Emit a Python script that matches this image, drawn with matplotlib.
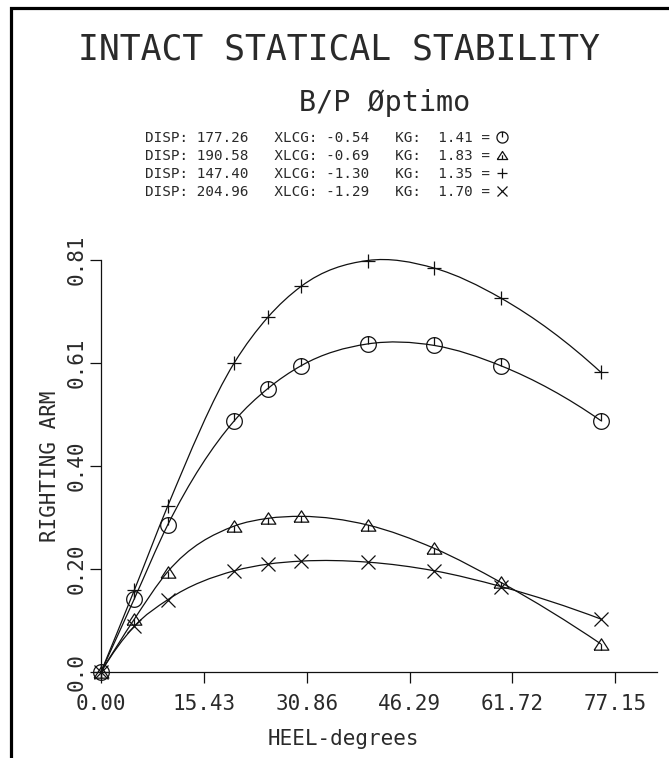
import matplotlib
matplotlib.use("Agg")
import matplotlib.pyplot as plt
from matplotlib.path import Path
from matplotlib.patches import PathPatch
from matplotlib.lines import Line2D
import numpy as np

# ---------------- data ----------------
heel = [0, 5, 10, 20, 25, 30, 40, 50, 60, 75]
arm_circle = [0.0, 0.144, 0.289, 0.494, 0.557, 0.602, 0.645, 0.642, 0.602, 0.494]
arm_tri = [0.0, 0.104, 0.197, 0.287, 0.302, 0.306, 0.289, 0.243, 0.176, 0.055]
arm_plus = [0.0, 0.161, 0.326, 0.608, 0.697, 0.758, 0.809, 0.794, 0.735, 0.589]
arm_cross = [0.0, 0.090, 0.142, 0.199, 0.212, 0.218, 0.216, 0.199, 0.168, 0.104]

disp = ["177.26", "190.58", "147.40", "204.96"]
xlcg = ["-0.54", "-0.69", "-1.30", "-1.29"]
kg = ["1.41", "1.83", "1.35", "1.70"]

xtick_vals = [0.0, 15.43, 30.86, 46.29, 61.72, 77.15]
xtick_labels = ["0.00", "15.43", "30.86", "46.29", "61.72", "77.15"]
ytick_vals = [0.0, 0.2025, 0.405, 0.6075, 0.81]
ytick_labels = ["0.0", "0.20", "0.40", "0.61", "0.81"]

title = "INTACT STATICAL STABILITY"
subtitle = "B/P Øptimo"
xlabel = "HEEL-degrees"
ylabel = "RIGHTING ARM"

# ---------------- layout ----------------
W, H = 669, 758
FONT = "DejaVu Sans Mono"
INK = "#111111"
TXT = "#2a2a2a"
fig = plt.figure(figsize=(W / 100, H / 100), dpi=100)


def fx(x):
    return x / W


def fy(y):
    return 1 - y / H


ax = fig.add_axes([fx(101), fy(672), (657 - 101) / W, (672 - 260) / H])
ax.set_xlim(0, 83.4)
ax.set_ylim(0, 0.81)
ax.patch.set_alpha(0)
for s in ("top", "right"):
    ax.spines[s].set_visible(False)
for s in ("left", "bottom"):
    ax.spines[s].set_linewidth(0.9)
    ax.spines[s].set_color(INK)

ax.set_xticks(xtick_vals)
ax.set_xticklabels(xtick_labels, family=FONT, fontsize=15, color=TXT)
ax.set_yticks(ytick_vals)
ax.set_yticklabels(ytick_labels, family=FONT, fontsize=15, color=TXT,
                   rotation=90, va="center", ha="right")
ax.tick_params(axis="x", direction="out", length=8, width=0.9, pad=7.5, colors=INK,
               labelcolor=TXT)
ax.tick_params(axis="y", direction="out", length=8, width=0.9, pad=2.5, colors=INK,
               labelcolor=TXT)


# ---------------- smooth curves ----------------
def smooth_path(xs, ys):
    xs = np.asarray(xs, float)
    ys = np.asarray(ys, float)
    h = np.diff(xs)
    d = np.diff(ys) / h
    m = np.empty_like(xs)
    m[1:-1] = (h[:-1] * d[1:] + h[1:] * d[:-1]) / (h[:-1] + h[1:])
    m[0] = ((2 * h[0] + h[1]) * d[0] - h[0] * d[1]) / (h[0] + h[1])
    m[-1] = ((2 * h[-1] + h[-2]) * d[-1] - h[-1] * d[-2]) / (h[-1] + h[-2])
    verts = [(xs[0], ys[0])]
    codes = [Path.MOVETO]
    for i in range(len(h)):
        verts += [(xs[i] + h[i] / 3, ys[i] + m[i] * h[i] / 3),
                  (xs[i + 1] - h[i] / 3, ys[i + 1] - m[i + 1] * h[i] / 3),
                  (xs[i + 1], ys[i + 1])]
        codes += [Path.CURVE4] * 3
    return Path(verts, codes)


# custom markers
t = np.linspace(0, 2 * np.pi, 33)
circ_v = [(np.sin(a), np.cos(a)) for a in t]
circ_c = [Path.MOVETO] + [Path.LINETO] * (len(circ_v) - 1)
circle_marker = Path(circ_v + [(0, 0), (0, 1)], circ_c + [Path.MOVETO, Path.LINETO])

tri_v = [(-1, -0.77), (1, -0.77), (0, 0.77), (-1, -0.77), (0, -0.77), (0, 0.05)]
tri_c = [Path.MOVETO, Path.LINETO, Path.LINETO, Path.LINETO, Path.MOVETO, Path.LINETO]
tri_marker = Path(tri_v, tri_c)

series = [
    (arm_circle, circle_marker, 11.3),
    (arm_tri, tri_marker, 10.6),
    (arm_plus, "+", 9.6),
    (arm_cross, "x", 10.6),
]
for arm, mk, ms in series:
    ax.add_patch(PathPatch(smooth_path(heel, arm), fill=False, edgecolor=INK,
                           lw=0.9, clip_on=False))
    ax.plot(heel, arm, linestyle="none", marker=mk, ms=ms, mfc="none", mec=INK,
            mew=0.9, clip_on=False)

# ---------------- texts ----------------
fig.text(fx(339), fy(59), title, family=FONT, fontsize=25, ha="center",
         va="baseline", color=TXT)
fig.text(fx(385), fy(111), subtitle, family=FONT, fontsize=20.5, ha="center",
         va="baseline", color=TXT)

header_baselines = [142, 160, 178, 196]
legend_markers = [(circle_marker, 8.0), (tri_marker, 7.5), ("+", 7.5), ("x", 7.5)]
for i in range(4):
    line = f"DISP: {disp[i]}   XLCG: {xlcg[i]}   KG:  {kg[i]} ="
    yb = header_baselines[i]
    fig.text(fx(145), fy(yb), line, family=FONT, fontsize=10.3, ha="left",
             va="baseline", color=TXT)
    mk, ms = legend_markers[i]
    fig.add_artist(Line2D([fx(502)], [fy(yb - 5)], transform=fig.transFigure,
                          linestyle="none", marker=mk, ms=ms, mfc="none",
                          mec=INK, mew=0.9))

fig.text(fx(343), fy(745), xlabel, family=FONT, fontsize=15, ha="center",
         va="baseline", color=TXT)
fig.text(fx(50), fy(466), ylabel, family=FONT, fontsize=15, ha="center",
         va="center", rotation=90, color=TXT)

# outer frame (partially visible)
fig.add_artist(Line2D([fx(10.5), fx(10.5), fx(669)], [0, fy(7.5), fy(7.5)],
                      transform=fig.transFigure, color="black", lw=2.3,
                      solid_joinstyle="miter"))

fig.savefig("out.png", dpi=100)
